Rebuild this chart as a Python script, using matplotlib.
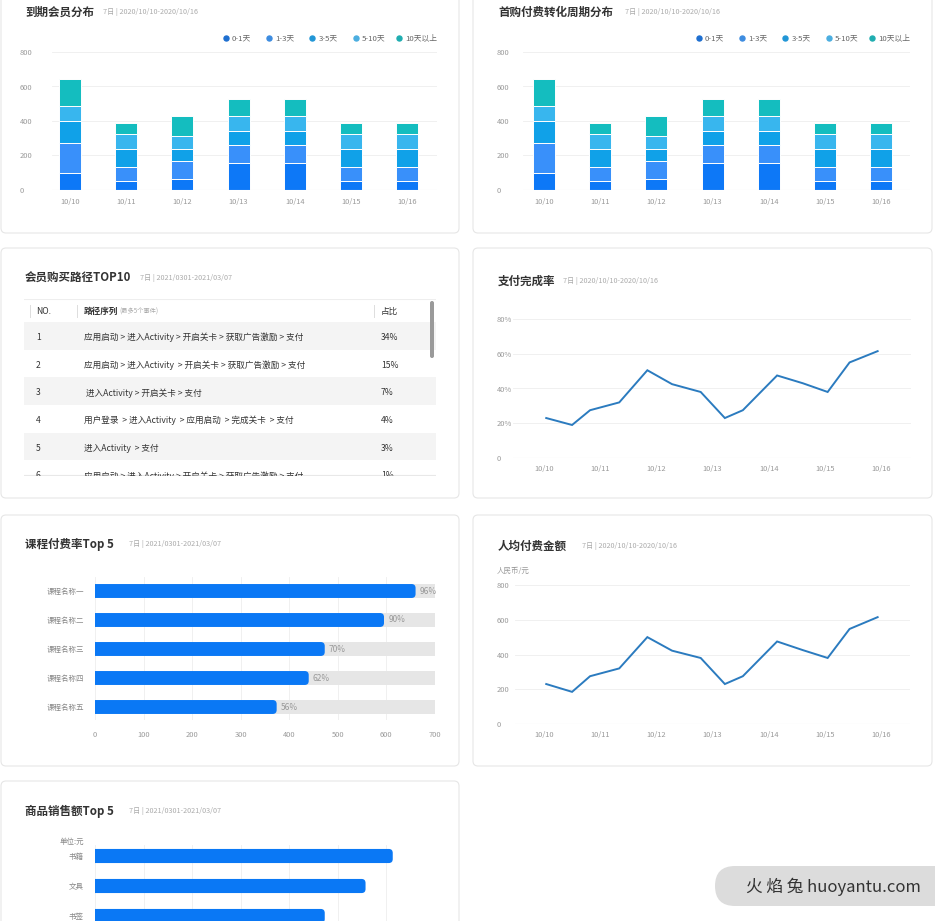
import matplotlib
matplotlib.use('Agg')
import matplotlib.pyplot as plt
import numpy as np
from matplotlib.patches import FancyBboxPatch, Rectangle

plt.rcParams['font.family'] = ['Noto Sans CJK SC', 'DejaVu Sans']

W, H = 935, 921

# ---- data ----
days = ['10/10', '10/11', '10/12', '10/13', '10/14', '10/15', '10/16']
stack_names = ['0-1天', '1-3天', '3-5天', '5-10天', '10天以上']
stack_0_1 = [100, 50, 65, 155, 155, 50, 50]
stack_1_3 = [170, 85, 105, 105, 105, 85, 85]
stack_3_5 = [130, 105, 65, 80, 80, 105, 105]
stack_5_10 = [85, 85, 80, 87, 87, 85, 85]
stack_10p = [160, 65, 115, 100, 100, 65, 65]
stacks = [stack_0_1, stack_1_3, stack_3_5, stack_5_10, stack_10p]
stack_ticks = [0, 200, 400, 600, 800]

# two points per day, x = day offset from 10/10
trend_x = [0.04, 0.50, 0.82, 1.34, 1.84, 2.28, 2.79, 3.22, 3.54, 4.15, 4.61, 5.05, 5.44, 5.94]
pay_rate = [23, 19, 27.5, 32, 50.5, 42.5, 38, 23, 27.5, 47.5, 43, 38, 55, 61.5]
pay_rate_ticks = [0, 20, 40, 60, 80]
pay_rate_labels = ['0', '20%', '40%', '60%', '80%']
arpu = [230, 185, 275, 320, 500, 422, 380, 230, 275, 475, 425, 380, 547, 615]
arpu_ticks = [0, 200, 400, 600, 800]

course_names = ['课程名称一', '课程名称二', '课程名称三', '课程名称四', '课程名称五']
course_values = [660, 595, 473, 440, 374]
course_rates = ['96%', '90%', '70%', '62%', '56%']
course_max = 700
course_ticks = [0, 100, 200, 300, 400, 500, 600, 700]

goods_names = ['书籍', '文具', '书签']
goods_values = [613, 557, 473]

table_no = ['1', '2', '3', '4', '5', '6']
table_path = ['应用启动 > 进入Activity > 开启关卡 > 获取广告激励 > 支付',
              '应用启动 > 进入Activity  > 开启关卡 > 获取广告激励 > 支付',
              ' 进入Activity > 开启关卡 > 支付',
              '用户登录  > 进入Activity  > 应用启动  > 完成关卡  > 支付',
              '进入Activity  > 支付',
              '应用启动 > 进入Activity > 开启关卡 > 获取广告激励 > 支付']
table_share = ['34%', '15%', '7%', '4%', '3%', '1%']

bar_colors = ['#0D78F7', '#3990FA', '#10A1E8', '#38B6EE', '#14BDBF']
dot_colors = ['#1E6FD0', '#3D8CE0', '#2196D6', '#4BAEE0', '#1FADB0']
line_color = '#2B7BBF'
tick_color = '#9A9A9A'
tick_size = 5.4

fig = plt.figure(figsize=(W / 100, H / 100), dpi=100)
fig.patch.set_facecolor('white')

bg = fig.add_axes([0, 0, 1, 1])
bg.set_xlim(0, W)
bg.set_ylim(H, 0)
bg.axis('off')


def px_axes(x0, y0, x1, y1):
    ax = fig.add_axes([x0 / W, 1 - y1 / H, (x1 - x0) / W, (y1 - y0) / H])
    ax.set_facecolor('none')
    return ax


def card(x0, y0, x1, y1):
    bg.add_patch(FancyBboxPatch((x0, y0), x1 - x0, y1 - y0,
                                boxstyle='round,pad=0,rounding_size=5',
                                fc='white', ec='#E6E6E6', lw=0.8))


def heading(x, y, title, sub, sub_x):
    bg.text(x, y, title, fontsize=8.3, fontweight='bold', color='#333333', va='center')
    bg.text(sub_x, y, sub, fontsize=5.2, color='#ABABAB', va='center')


def style(ax, grid_axis='y'):
    for s in ax.spines.values():
        s.set_visible(False)
    ax.tick_params(length=0, labelsize=tick_size, labelcolor=tick_color)
    ax.grid(axis=grid_axis, color='#EEEEEE', lw=0.6)
    ax.set_axisbelow(True)


def left_ylabels(ax, ax_left_px, label_x_px):
    ax.tick_params(axis='y', pad=(ax_left_px - label_x_px) * 0.72)
    for lab in ax.get_yticklabels():
        lab.set_horizontalalignment('left')


def round_right(ax, bars, width_px, height_px, radius_px=4):
    # swap the square bars for ones with rounded corners; the left end is
    # pushed below x=0 so the axes clip keeps it square
    x_per_px = (ax.get_xlim()[1] - ax.get_xlim()[0]) / width_px
    y_per_px = abs(ax.get_ylim()[0] - ax.get_ylim()[1]) / height_px
    for b in bars:
        x, y = b.get_x(), b.get_y()
        w, h = b.get_width(), b.get_height()
        ax.add_patch(FancyBboxPatch((x - 20, y), w + 20, h,
                                    boxstyle='round,pad=0,rounding_size=%f' % (radius_px * x_per_px),
                                    mutation_aspect=y_per_px / x_per_px,
                                    fc=b.get_facecolor(), ec='none', zorder=b.get_zorder()))
        b.set_visible(False)


for box in [(1, -20, 459, 233), (473, -20, 932, 233), (1, 248, 459, 498),
            (473, 248, 932, 498), (1, 515, 459, 766), (473, 515, 932, 766),
            (1, 781, 459, 960)]:
    card(*box)


# ---- stacked bar charts ----
def stacked_chart(x0, x1, label_x, first_center, legend_x):
    ax = px_axes(x0, 52, x1, 190)
    pos = np.arange(len(days))
    bottom = np.zeros(len(days))
    for vals, c in zip(stacks, bar_colors):
        ax.bar(pos, vals, bottom=bottom, width=0.39, color=c, edgecolor='white', lw=0.7)
        bottom += np.array(vals)
    step = 56.2
    ax.set_xlim(-(first_center - x0) / step, 6 + (x1 - (first_center + 6 * step)) / step)
    ax.set_ylim(0, 800)
    ax.set_yticks(stack_ticks)
    ax.set_xticks(pos)
    ax.set_xticklabels(days)
    style(ax)
    ax.axhline(0, color='#DDDDDD', lw=0.8)
    ax.tick_params(axis='x', pad=6)
    left_ylabels(ax, x0, label_x)
    for i, (name, c) in enumerate(zip(stack_names, dot_colors)):
        dx = legend_x + i * 43.2
        bg.plot(dx, 38, 'o', ms=3.6, color=c)
        bg.text(dx + 6, 38, name, fontsize=5.6, color='#666666', va='center')


stacked_chart(52, 437, 20, 70, 226)
heading(25, 12, '到期会员分布', '7日 | 2020/10/10-2020/10/16', 103)
stacked_chart(523, 910, 497, 544, 699)
heading(498, 12, '首购付费转化周期分布', '7日 | 2020/10/10-2020/10/16', 625)


# ---- table ----
heading(25, 278, '会员购买路径TOP10', '7日 | 2021/0301-2021/03/07', 140)
tax = px_axes(24, 299, 436, 476)
tax.set_xlim(24, 436)
tax.set_ylim(476, 299)
tax.axis('off')
row_h = 27.7
fs = 6.2
tax.plot([24, 436], [299.5, 299.5], color='#EEEEEE', lw=0.8)
for sx in [30, 77, 374]:
    tax.plot([sx, sx], [305, 317], color='#DDDDDD', lw=0.7)
tax.text(36, 311, 'NO.', fontsize=fs, color='#333333', va='center')
tax.text(84, 311, '路径序列', fontsize=fs, fontweight='bold', color='#333333', va='center')
tax.text(119, 311.5, '(最多5个事件)', fontsize=4.5, color='#AAAAAA', va='center')
tax.text(381, 311, '占比', fontsize=fs, color='#333333', va='center')
for i, (no, path, share) in enumerate(zip(table_no, table_path, table_share)):
    y0 = 322 + i * row_h
    if i % 2 == 0:
        tax.add_patch(Rectangle((24, y0), 412, row_h, fc='#F4F4F4', ec='none'))
    yc = y0 + row_h / 2 + 1.5
    tax.text(36, yc, no, fontsize=fs, color='#333333', va='center', clip_on=True)
    tax.text(84, yc, path, fontsize=fs, color='#333333', va='center', clip_on=True)
    tax.text(381, yc, share, fontsize=fs, color='#333333', va='center', clip_on=True)
tax.plot([24, 436], [475.5, 475.5], color='#E8E8E8', lw=0.8)
tax.add_patch(FancyBboxPatch((430, 301), 4, 57, boxstyle='round,pad=0,rounding_size=2',
                             fc='#9A9A9A', ec='none'))


# ---- line charts ----
def line_chart(y0, y1, x0, x1, values, ymax, ticks, labels, label_x):
    ax = px_axes(x0, y0, x1, y1)
    ax.plot(trend_x, values, color=line_color, lw=1.4, solid_joinstyle='miter')
    step = 56.2
    ax.set_xlim(-(544 - x0) / step, 6 + (x1 - 881) / step)
    ax.set_ylim(0, ymax)
    ax.set_yticks(ticks)
    ax.set_yticklabels(labels)
    ax.set_xticks(range(len(days)))
    ax.set_xticklabels(days)
    style(ax)
    ax.axhline(0, color='#DDDDDD', lw=0.8)
    ax.tick_params(axis='x', pad=5)
    left_ylabels(ax, x0, label_x)
    return ax


heading(498, 281, '支付完成率', '7日 | 2020/10/10-2020/10/16', 563)
line_chart(319, 458, 513, 911, pay_rate, 80, pay_rate_ticks, pay_rate_labels, 497)

heading(498, 546, '人均付费金额', '7日 | 2020/10/10-2020/10/16', 582)
bg.text(497, 571, '人民币/元', fontsize=5.4, color='#999999', va='center')
line_chart(585, 724, 515, 910, arpu, 800, arpu_ticks, [str(t) for t in arpu_ticks], 497)


# ---- horizontal bar charts ----
heading(25, 544, '课程付费率Top 5', '7日 | 2021/0301-2021/03/07', 129)
cax = px_axes(95, 577, 435, 720)
cy = np.arange(len(course_names))
back = cax.barh(cy, [course_max] * len(cy), height=0.48, color='#E6E6E6')
front = cax.barh(cy, course_values, height=0.48, color='#0A78F5')
for yv, v, r in zip(cy, course_values, course_rates):
    cax.annotate(r, (v, yv), xytext=(3, 0), textcoords='offset points',
                 va='center', fontsize=6, color='#999999')
cax.set_xlim(0, course_max)
cax.set_ylim(4 + 13 / 29, -14 / 29)
cax.set_xticks(course_ticks)
cax.set_yticks(cy)
cax.set_yticklabels(course_names)
style(cax, 'x')
cax.tick_params(axis='x', pad=8)
cax.tick_params(axis='y', pad=8, labelcolor='#888888')
round_right(cax, front, 340, 143)

heading(25, 811, '商品销售额Top 5', '7日 | 2021/0301-2021/03/07', 129)
bg.text(84, 842, '单位:元', fontsize=5.4, color='#888888', va='center', ha='right')
gax = px_axes(95, 845, 435, 921)
gy = np.arange(len(goods_names))
gbars = gax.barh(gy, goods_values, height=0.47, color='#0A78F5')
gax.set_xlim(0, course_max)
gax.set_ylim((921 - 856) / 30, -(856 - 845) / 30)
gax.set_xticks(course_ticks)
gax.set_xticklabels([])
gax.set_yticks(gy)
gax.set_yticklabels(goods_names)
style(gax, 'x')
gax.tick_params(axis='y', pad=8, labelcolor='#888888')
round_right(gax, gbars, 340, 76)

# watermark
bg.add_patch(FancyBboxPatch((715, 866), 240, 40, boxstyle='round,pad=0,rounding_size=20',
                            fc='#DCDCDC', ec='none'))
bg.text(833, 887, '火 焰 兔 huoyantu.com', fontsize=12, color='#333333',
        va='center', ha='center')

fig.savefig('out.png', dpi=100)
